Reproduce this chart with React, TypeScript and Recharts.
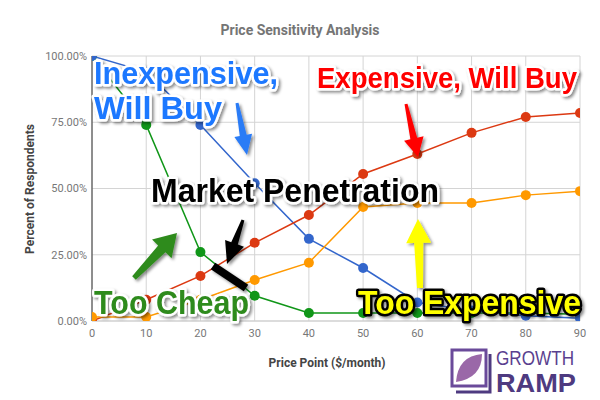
import { LineChart, Line, XAxis, YAxis, CartesianGrid } from 'recharts';

const pricePoints = [0, 10, 20, 30, 40, 50, 60, 70, 80, 90];
const tooCheap = [100, 74, 26, 9.5, 3, 3, 3, 3, 3, 2.5];
const inexpensive = [100, 94, 74, 52, 31, 20, 7, 4, 2, 1];
const expensive = [0, 8, 17, 29.5, 40, 55.5, 63, 71, 77, 78.5];
const tooExpensive = [1.5, 1.5, 8, 15.5, 22, 43, 44.5, 44.5, 47.5, 49];
const yTicks = [0, 25, 50, 75, 100];

const data = pricePoints.map((p, i) => ({
  price: p,
  tooCheap: tooCheap[i],
  inexpensive: inexpensive[i],
  expensive: expensive[i],
  tooExpensive: tooExpensive[i],
}));

// tapered arrow polygon from tail to tip
function arrow(tx: number, ty: number, hx: number, hy: number, tailW: number, shaftW: number, headW: number, headL: number) {
  const dx = hx - tx;
  const dy = hy - ty;
  const len = Math.sqrt(dx * dx + dy * dy);
  const ux = dx / len;
  const uy = dy / len;
  const nx = -uy;
  const ny = ux;
  const bx = hx - ux * headL;
  const by = hy - uy * headL;
  const pts = [
    [tx + nx * tailW / 2, ty + ny * tailW / 2],
    [bx + nx * shaftW / 2, by + ny * shaftW / 2],
    [bx + nx * headW / 2, by + ny * headW / 2],
    [hx, hy],
    [bx - nx * headW / 2, by - ny * headW / 2],
    [bx - nx * shaftW / 2, by - ny * shaftW / 2],
    [tx - nx * tailW / 2, ty - ny * tailW / 2],
  ];
  return pts.map(p => p.join(',')).join(' ');
}

const bigText = {
  fontFamily: '"Liberation Sans", Arial, sans-serif',
  fontWeight: 700,
  fontSize: 33,
  paintOrder: 'stroke',
  strokeLinejoin: 'round' as const,
};

export default function App() {
  return (
    <div style={{ position: 'absolute', left: 0, top: 0, width: 600, height: 400, background: '#fff' }}>
      <LineChart width={600} height={400} data={data} margin={{ top: 56, right: 20, bottom: 49, left: 0 }}>
        <CartesianGrid stroke="#d4d4d4" />
        <XAxis
          dataKey="price"
          type="number"
          domain={[0, 90]}
          ticks={pricePoints}
          allowDataOverflow
          tickSize={0}
          tickMargin={8}
          height={30}
          axisLine={{ stroke: '#cfcfcf' }}
          tick={{ fill: '#777', fontSize: 11, fontFamily: 'Roboto, sans-serif' }}
        />
        <YAxis
          type="number"
          domain={[0, 100]}
          ticks={yTicks}
          allowDataOverflow
          width={92}
          tickSize={0}
          tickMargin={5}
          axisLine={{ stroke: '#333' }}
          tickFormatter={(v: number) => `${v.toFixed(2)}%`}
          tick={{ fill: '#777', fontSize: 11, fontFamily: 'Roboto, sans-serif' }}
        />
        <Line dataKey="tooCheap" stroke="#109618" strokeWidth={1.5} dot={{ r: 5, fill: '#109618', strokeWidth: 0 }} isAnimationActive={false} />
        <Line dataKey="inexpensive" stroke="#3366cc" strokeWidth={1.5} dot={{ r: 5, fill: '#3366cc', strokeWidth: 0 }} isAnimationActive={false} />
        <Line dataKey="expensive" stroke="#dc3912" strokeWidth={1.5} dot={{ r: 5, fill: '#dc3912', strokeWidth: 0 }} isAnimationActive={false} />
        <Line dataKey="tooExpensive" stroke="#ff9900" strokeWidth={1.5} dot={{ r: 5, fill: '#ff9900', strokeWidth: 0 }} isAnimationActive={false} />
      </LineChart>

      <svg width={600} height={400} style={{ position: 'absolute', left: 0, top: 0, pointerEvents: 'none' }}>
        <defs>
          <filter id="shadow" x="-20%" y="-20%" width="140%" height="140%">
            <feDropShadow dx="2" dy="2" stdDeviation="1.5" floodColor="#000" floodOpacity="0.45" />
          </filter>
        </defs>

        <text x={300} y={35} textAnchor="middle" fontFamily="Roboto, sans-serif" fontWeight={700} fontSize={14} fill="#757575">
          Price Sensitivity Analysis
        </text>
        <text x={327} y={367} textAnchor="middle" fontFamily="Roboto, sans-serif" fontWeight={700} fontSize={12} fill="#444">
          Price Point ($/month)
        </text>
        <text x={34} y={189} textAnchor="middle" transform="rotate(-90 34 189)" fontFamily="Roboto, sans-serif" fontWeight={700} fontSize={12} fill="#444">
          Percent of Respondents
        </text>

        <g filter="url(#shadow)">
          <polygon points={arrow(237, 103, 247, 155, 3, 7, 18, 20)} fill="#2b7bf6" />
          <polygon points={arrow(406, 104, 418, 157, 3, 7, 20, 19)} fill="#ff0000" />
          <polygon points={arrow(420, 288, 418, 219, 6, 9, 25, 24)} fill="#ffff00" />
          <polygon points={arrow(134, 278, 177, 233, 5, 10, 27, 22)} fill="#2e8b1d" />
          <polygon points={arrow(243, 220, 227, 264, 3, 7, 20, 22)} fill="#000" />
          <line x1={213} y1={266} x2={246} y2={288} stroke="#000" strokeWidth={8} />

          <text x={94} y={84} textLength={184} lengthAdjust="spacingAndGlyphs" {...bigText} fontSize={32} fill="#1f78ff" stroke="#fff" strokeWidth={5}>
            Inexpensive,
          </text>
          <text x={94} y={119} textLength={128} lengthAdjust="spacingAndGlyphs" {...bigText} fontSize={32} fill="#1f78ff" stroke="#fff" strokeWidth={5}>
            Will Buy
          </text>
          <text x={317} y={88} textLength={260} lengthAdjust="spacingAndGlyphs" {...bigText} fontSize={30} fill="#ff0000" stroke="#fff" strokeWidth={5}>
            Expensive, Will Buy
          </text>
          <text x={151} y={202} textLength={288} lengthAdjust="spacingAndGlyphs" {...bigText} fill="#000" stroke="#fff" strokeWidth={5}>
            Market Penetration
          </text>
          <text x={94} y={314} textLength={155} lengthAdjust="spacingAndGlyphs" {...bigText} fill="#2e8b1d" stroke="#fff" strokeWidth={5}>
            Too Cheap
          </text>
          <text x={358} y={314} textLength={223} lengthAdjust="spacingAndGlyphs" {...bigText} fill="#ffff00" stroke="#000" strokeWidth={5}>
            Too Expensive
          </text>
        </g>

        <g>
          <path d="M452 350 L486 350 L486 386 L452 386 Z" fill="#fff" stroke="#6a4a9a" strokeWidth={3} />
          <path d="M456 392 L490 392 L490 354" fill="none" stroke="#4e3a80" strokeWidth={3} />
          <path d="M456 382 Q458 356 482 354 Q482 378 456 382 Z" fill="#9a68a8" />
          <text x={496} y={365} textLength={78} lengthAdjust="spacingAndGlyphs" fontFamily="'Liberation Sans Narrow', Arial, sans-serif" fontWeight={400} fontSize={20} fill="#5a3f8f">
            GROWTH
          </text>
          <text x={496} y={392} textLength={80} lengthAdjust="spacingAndGlyphs" fontFamily="'Liberation Sans', Arial, sans-serif" fontWeight={900} fontSize={26} fill="#4e3a80">
            RAMP
          </text>
        </g>
      </svg>
    </div>
  );
}
